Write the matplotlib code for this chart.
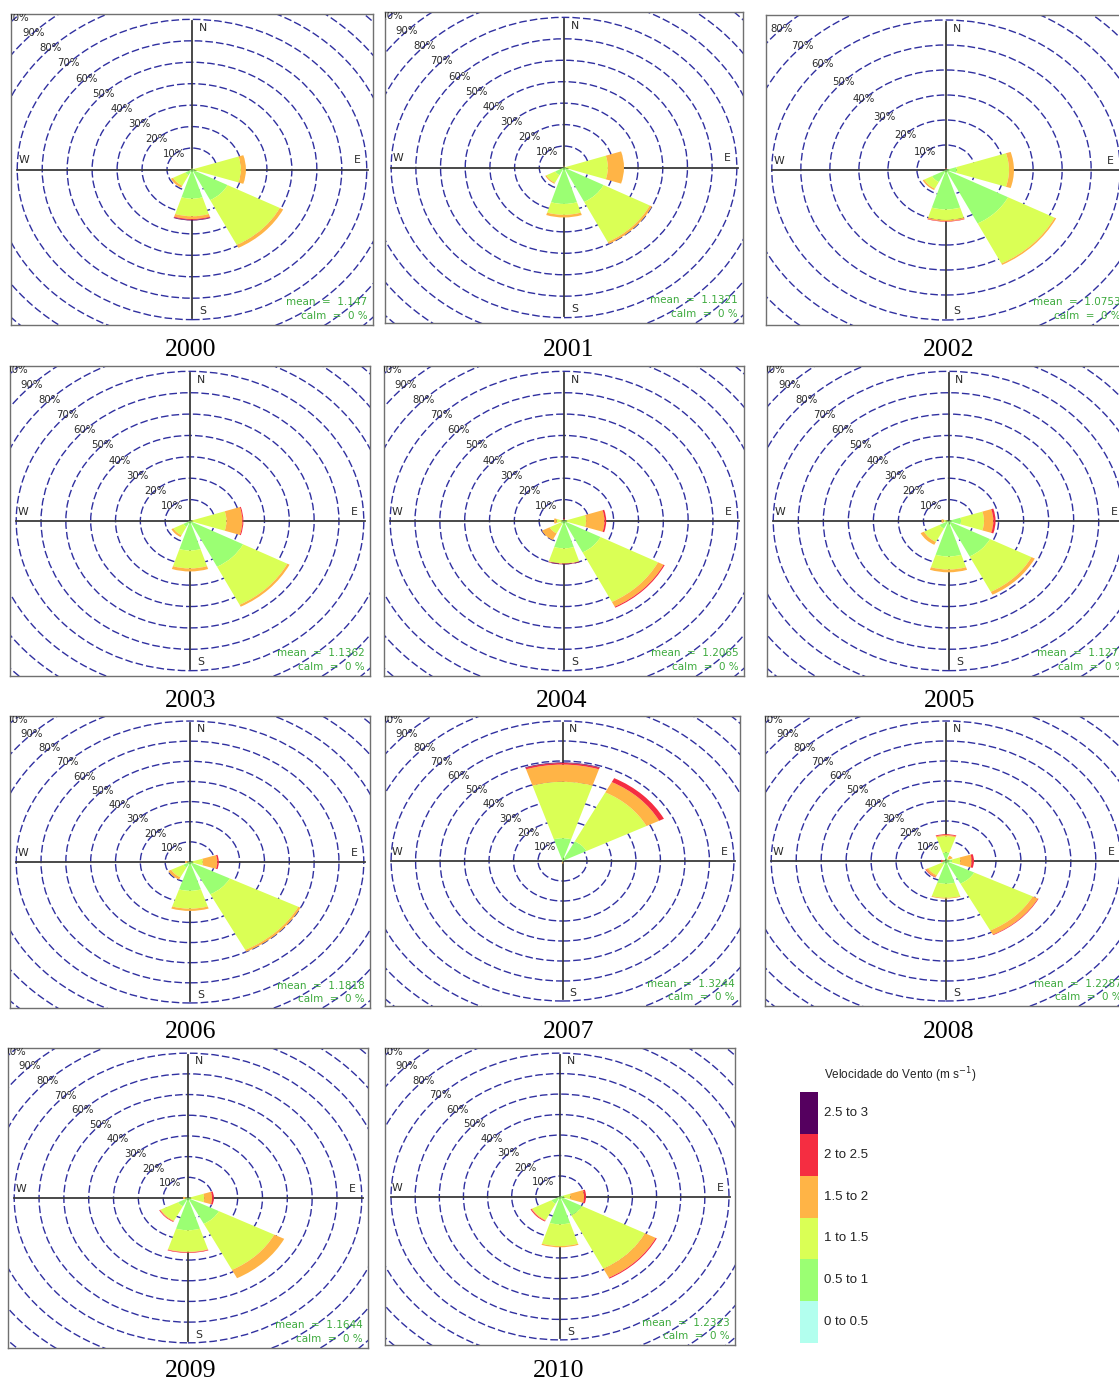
import matplotlib
matplotlib.use('Agg')
import matplotlib.pyplot as plt
from matplotlib.patches import Wedge, Circle

W, H = 1119, 1380

# ---------------- data ----------------
years = [2000, 2001, 2002, 2003, 2004, 2005, 2006, 2007, 2008, 2009, 2010]
directions = [0, 45, 90, 135, 180, 225, 270, 315]        # N, NE, E, SE, S, SW, W, NW
speed_bins = ['0 to 0.5', '0.5 to 1', '1 to 1.5', '1.5 to 2', '2 to 2.5', '2.5 to 3']
bin_colors = ['#B2FFEE', '#9BFF73', '#DAFF55', '#FFB446', '#F52D41', '#55005F']
means = ['1.147', '1.1321', '1.0753', '1.1362', '1.2065', '1.1275',
         '1.1818', '1.3244', '1.2287', '1.1644', '1.2323']
calms = [0, 0, 0, 0, 0, 0, 0, 0, 0, 0, 0]
ring_levels = [10, 20, 30, 40, 50, 60, 70, 80, 90, 100, 110, 120]

# frequency (%) per direction (rows N..NW) and speed bin (columns)
freq_2000 = [[0, 0.3, 0.3, 0, 0, 0], [0, 0.3, 0.2, 0, 0, 0], [0, 1.0, 18.6, 2.0, 0, 0],
             [0, 16.0, 23.5, 1.5, 0, 0], [0, 13.6, 8.2, 1.3, 0.4, 0.3], [0, 3.0, 5.5, 1.0, 0, 0],
             [0, 0.3, 0.2, 0, 0, 0], [0, 0, 0, 0, 0, 0]]
freq_2001 = [[0, 0.2, 0.3, 0.3, 0, 0], [0, 0, 0, 0, 0, 0], [0, 0.5, 17.3, 6.5, 0, 0],
             [0, 18.0, 21.0, 1.0, 0, 0], [0, 17.0, 5.1, 1.2, 0, 0], [0, 4.0, 4.0, 0.5, 0, 0],
             [0, 0, 0, 0, 0, 0], [0, 0, 0, 0, 0, 0]]
freq_2002 = [[0, 0.2, 0.2, 0.2, 0.2, 0], [0, 0, 0, 0, 0, 0], [0, 3.7, 18.0, 1.7, 0, 0],
             [0, 24.0, 18.0, 0.6, 0, 0], [0, 15.8, 4.2, 0.5, 0.2, 0], [0, 5.4, 3.0, 0.6, 0, 0],
             [0, 0, 0, 0, 0, 0], [0, 0, 0, 0, 0, 0]]
freq_2003 = [[0, 0, 0, 0, 0, 0], [0, 0, 0, 0, 0, 0], [0, 0.5, 14.2, 6.4, 0.4, 0],
             [0, 24.0, 20.0, 1.0, 0, 0], [0, 13.8, 8.4, 1.4, 0, 0], [0, 3.0, 4.5, 0.9, 0, 0],
             [0, 0, 0, 0, 0, 0], [0, 0, 0, 0, 0, 0]]
freq_2004 = [[0, 0.3, 0.3, 0.3, 0.3, 0.2], [0, 0, 0, 0, 0, 0], [0, 1.0, 7.9, 7.4, 0.7, 0],
             [0, 16.5, 26.0, 2.5, 0.5, 0], [0, 12.8, 7.0, 0.2, 0.2, 0.1], [0, 1.5, 5.0, 3.5, 0, 0],
             [0, 0.5, 2.5, 1.0, 0, 0], [0, 0, 0, 0, 0, 0]]
freq_2005 = [[0, 0, 0, 0, 0, 0], [0, 0, 0, 0, 0, 0], [0, 5.0, 9.2, 3.7, 0.9, 0],
             [0, 18.6, 18.6, 1.5, 0, 0], [0, 16.6, 6.1, 1.3, 0, 0], [0, 4.0, 7.0, 1.5, 0, 0],
             [0, 0.5, 1.5, 0.8, 0, 0], [0, 0, 0, 0, 0, 0]]
freq_2006 = [[0, 0, 0, 0, 0, 0], [0, 0, 0, 0, 0, 0], [0, 1.0, 4.2, 5.8, 0.6, 0],
             [0, 18.0, 31.0, 1.0, 0, 0], [0, 14.3, 8.9, 1.1, 0, 0], [0, 3.0, 5.5, 1.3, 0, 0],
             [0, 0.3, 0.7, 1.0, 0, 0], [0, 0, 0, 0, 0, 0]]
freq_2007 = [[0, 11.4, 28.2, 8.6, 0.8, 0.3], [0, 11.0, 27.5, 5.8, 2.2, 0], [0, 0, 0, 0, 0, 0],
             [0, 0, 0, 0, 0, 0], [0, 0.3, 0.3, 0.6, 0, 0], [0, 0, 0, 0, 0, 0],
             [0, 0, 0, 0, 0, 0], [0, 0, 0, 0, 0, 0]]
freq_2008 = [[0, 4.3, 8.1, 0.6, 0.4, 0], [0, 0.5, 1.0, 1.5, 0, 0], [0, 2.4, 3.3, 4.6, 0.9, 0],
             [0, 12.7, 26.3, 2.3, 0.3, 0], [0, 11.4, 7.0, 0.4, 0, 0], [0, 2.0, 6.0, 1.0, 0.3, 0],
             [0, 0.3, 0.7, 0.5, 0.5, 0], [0, 0, 0, 0, 0, 0]]
freq_2009 = [[0, 0, 0, 0, 0, 0], [0, 0, 0, 0, 0, 0], [0, 1.0, 5.5, 3.2, 0.7, 0],
             [0, 14.0, 25.0, 4.5, 0, 0], [0, 15.6, 10.4, 0.3, 0.3, 0], [0, 4.5, 7.8, 0.4, 0.3, 0],
             [0, 0.3, 0.7, 1.0, 0, 0], [0, 0, 0, 0, 0, 0]]
freq_2010 = [[0, 0, 0, 0, 0, 0], [0, 0, 0, 0, 0, 0], [0, 1.5, 2.8, 5.7, 0.8, 0],
             [0, 10.3, 29.2, 5.0, 0.5, 0], [0, 13.6, 10.6, 0.6, 0, 0], [0, 4.0, 8.9, 0.4, 0.4, 0],
             [0, 0, 0, 0, 0, 0], [0, 0, 0, 0, 0, 0]]
freqs = [freq_2000, freq_2001, freq_2002, freq_2003, freq_2004, freq_2005,
         freq_2006, freq_2007, freq_2008, freq_2009, freq_2010]

# ---------------- layout (pixels: left, top, right, bottom) ----------------
boxes = [(11, 14, 373, 325), (385, 12, 743, 323), (766, 15, 1126, 325),
         (10, 366, 370, 676), (384, 366, 744, 676), (767, 366, 1130, 676),
         (10, 716, 370, 1008), (385, 716, 740, 1006), (765, 716, 1127, 1006),
         (8, 1048, 368, 1348), (385, 1048, 735, 1345)]
limits = [72.5, 72.5, 62.0, 72.5, 72.5, 72.5, 72.5, 72.5, 72.5, 72.5, 72.5]
year_pos = [(191, 350), (569, 350), (949, 350), (191, 701), (562, 701), (950, 701),
            (191, 1032), (569, 1032), (949, 1032), (191, 1371), (559, 1371)]

HALF = 18.0
RING_COL = '#3030A0'
TXT_COL = '#2a2a2a'
GREEN_TXT = '#3DAA3D'

fig = plt.figure(figsize=(W / 100, H / 100), dpi=100)

for k, yr in enumerate(years):
    l, t, r, b = boxes[k]
    ax = fig.add_axes([l / W, 1 - b / H, (r - l) / W, (b - t) / H])
    L = limits[k]
    ax.set_xlim(-L, L)
    ax.set_ylim(-L, L)
    ax.set_xticks([])
    ax.set_yticks([])
    for sp in ax.spines.values():
        sp.set_color('#707070')
        sp.set_linewidth(1.0)

    # rings
    for rv in ring_levels:
        ax.add_patch(Circle((0, 0), rv, fill=False, ec=RING_COL, lw=1.0,
                            ls=(0, (5.5, 2.2)), zorder=1))
    # cross lines
    ax.plot([0, 0], [-0.955 * L, 0.955 * L], color='#3a3a3a', lw=1.3, zorder=2)
    ax.plot([-0.965 * L, 0.97 * L], [0, 0], color='#3a3a3a', lw=1.3, zorder=2)

    # ring labels
    for rv in ring_levels:
        if rv <= 100 and rv * 0.7071 <= L + 0.5:
            ax.text(-rv * 0.7071, rv * 0.7071, f'{rv}%', ha='center', va='center',
                    fontsize=7.3, color=TXT_COL, clip_on=True, zorder=3)

    # compass labels
    ax.text(0.53, 0.955, 'N', transform=ax.transAxes, ha='center', va='center',
            fontsize=7.8, color=TXT_COL, zorder=3)
    ax.text(0.53, 0.045, 'S', transform=ax.transAxes, ha='center', va='center',
            fontsize=7.8, color=TXT_COL, zorder=3)
    ax.text(0.957, 0.53, 'E', transform=ax.transAxes, ha='center', va='center',
            fontsize=7.8, color=TXT_COL, zorder=3)
    ax.text(0.035, 0.53, 'W', transform=ax.transAxes, ha='center', va='center',
            fontsize=7.8, color=TXT_COL, zorder=3)

    # wedges
    fr = freqs[k]
    for i, d in enumerate(directions):
        cum = 0.0
        for j, f in enumerate(fr[i]):
            if f <= 0:
                continue
            r_in, r_out = cum, cum + f
            cum = r_out
            th1 = 90 - d - HALF
            th2 = 90 - d + HALF
            ax.add_patch(Wedge((0, 0), r_out, th1, th2,
                               width=(r_out - r_in) if r_in > 0 else None,
                               fc=bin_colors[j], ec='none', lw=0, zorder=4))

    # mean / calm
    ax.text(0.985, 0.075, f'mean  =  {means[k]}', transform=ax.transAxes, ha='right',
            va='center', fontsize=7.5, color=GREEN_TXT, zorder=5)
    ax.text(0.985, 0.03, f'calm  =  {calms[k]} %', transform=ax.transAxes, ha='right',
            va='center', fontsize=7.5, color=GREEN_TXT, zorder=5)

    # year label
    xp, yp = year_pos[k]
    fig.text(xp / W, 1 - yp / H, str(yr), ha='center', va='center', fontsize=18.5,
             family='Liberation Serif', color='black')

# ---------------- legend ----------------
lx0, ly0, lx1, ly1 = 800, 1092, 818, 1343
lax = fig.add_axes([lx0 / W, 1 - ly1 / H, (lx1 - lx0) / W, (ly1 - ly0) / H])
for j, c in enumerate(bin_colors):
    lax.bar(0, 1, bottom=j, width=1, color=c, edgecolor='none')
lax.set_xlim(-0.5, 0.5)
lax.set_ylim(0, len(bin_colors))
lax.axis('off')
for j, lab in enumerate(speed_bins):
    lax.text(1.0 + 6 / (lx1 - lx0), j + 0.5, lab, transform=lax.get_yaxis_transform(),
             ha='left', va='center', fontsize=9.5, color='#222222', family='Liberation Sans')
fig.text(824 / W, 1 - 1075 / H, r'Velocidade do Vento (m s$^{-1}$)', ha='left', va='center',
         fontsize=8.5, color='#222222', family='Liberation Sans')

fig.savefig('out.png', dpi=100)
